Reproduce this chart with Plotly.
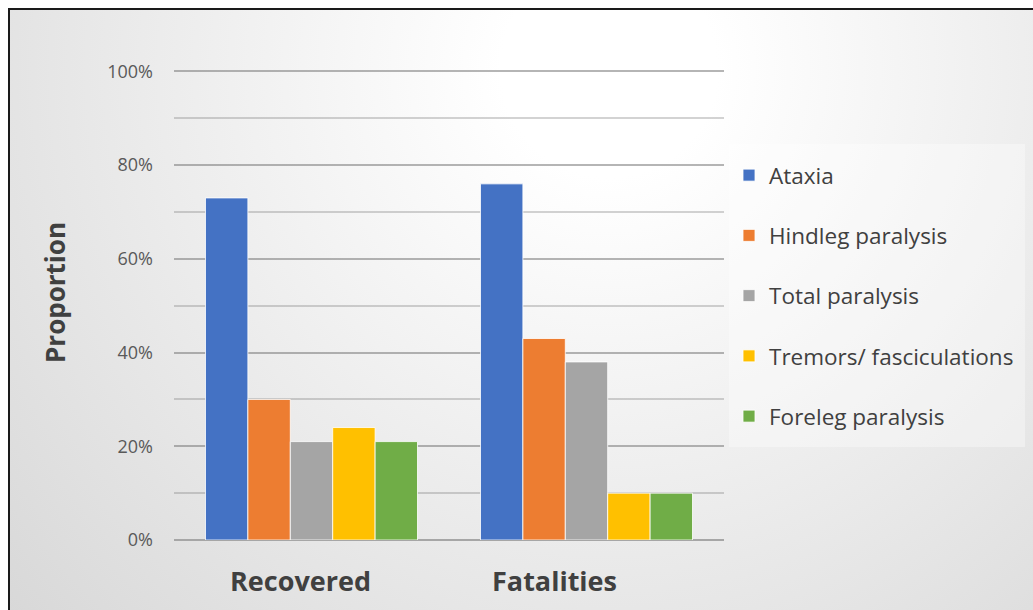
import base64
import plotly.graph_objects as go

# Chart data
groups = ["Recovered", "Fatalities"]
signs = ["Ataxia", "Hindleg paralysis", "Total paralysis",
         "Tremors/ fasciculations", "Foreleg paralysis"]
ataxia = [0.73, 0.76]
hindleg = [0.30, 0.43]
total = [0.21, 0.38]
tremors = [0.24, 0.10]
foreleg = [0.21, 0.10]
series_values = [ataxia, hindleg, total, tremors, foreleg]
colors = ["#4472C4", "#ED7D31", "#A5A5A5", "#FFC000", "#70AD47"]
y_tick_vals = [0, 0.2, 0.4, 0.6, 0.8, 1.0]
y_tick_text = ["0%", "20%", "40%", "60%", "80%", "100%"]

W, H = 1033, 610
L, R, T, B = 174, 309, 70, 70
pw, ph = W - L - R, H - T - B
FONT = "Open Sans, DejaVu Sans, sans-serif"


def px_x(px):
    return (px - L) / pw


def px_y(py):
    return (H - B - py) / ph


# Soft radial backdrop for the chart frame
svg = f"""<svg xmlns='http://www.w3.org/2000/svg' width='1031' height='606' viewBox='0 0 1031 606' preserveAspectRatio='none'>
<defs><radialGradient id='g' gradientUnits='userSpaceOnUse' cx='600' cy='60' r='900'>
<stop offset='0' stop-color='#ffffff'/><stop offset='0.12' stop-color='#ffffff'/>
<stop offset='1' stop-color='#d3d3d3'/></radialGradient></defs>
<rect width='1031' height='606' fill='url(#g)'/></svg>"""
bg_src = "data:image/svg+xml;base64," + base64.b64encode(svg.encode()).decode()

fig = go.Figure()
for name, vals, col in zip(signs, series_values, colors):
    fig.add_trace(go.Bar(
        x=groups, y=vals, name=name, legendgroup=name,
        marker=dict(color=col, line=dict(color="rgba(255,255,255,0.8)", width=1)),
    ))

# Category labels sit slightly left of the bar-group centres
label_shift = [-11, -32]
annotations = [
    dict(x=g, y=0, xref="x", yref="y", text=f"<b>{g}</b>", showarrow=False,
         xshift=s, yshift=-40, yanchor="middle",
         font=dict(size=27, color="#404040", family=FONT))
    for g, s in zip(groups, label_shift)
]
annotations.append(dict(
    x=px_x(55), y=px_y(293), xref="paper", yref="paper", text="<b>Proportion</b>",
    textangle=-90, showarrow=False, xanchor="center", yanchor="middle",
    font=dict(size=26, color="#404040", family=FONT),
))

fig.update_layout(
    width=W, height=H,
    margin=dict(l=L, r=R, t=T, b=B, autoexpand=False),
    paper_bgcolor="white",
    plot_bgcolor="rgba(0,0,0,0)",
    barmode="group",
    bargap=0.229,
    bargroupgap=0,
    font=dict(family=FONT, color="#404040"),
    images=[dict(
        source=bg_src, xref="paper", yref="paper",
        x=px_x(9), y=px_y(9), sizex=px_x(1040) - px_x(9), sizey=px_y(9) - px_y(615),
        xanchor="left", yanchor="top", sizing="stretch", layer="below",
    )],
    shapes=[
        # legend panel
        dict(type="rect", xref="paper", yref="paper",
             x0=px_x(729), x1=px_x(1025), y0=px_y(447), y1=px_y(144),
             line=dict(width=0), fillcolor="rgba(255,255,255,0.35)", layer="below"),
        # outer frame
        dict(type="rect", xref="paper", yref="paper",
             x0=px_x(9), x1=px_x(1045), y0=px_y(620), y1=px_y(9),
             line=dict(color="#1a1a1a", width=2), fillcolor="rgba(0,0,0,0)",
             layer="above"),
    ],
    annotations=annotations,
    legend=dict(
        x=px_x(729), y=px_y(154), xanchor="left", yanchor="top",
        bgcolor="rgba(0,0,0,0)",
        font=dict(size=22.5, color="#404040"),
        tracegroupgap=28,
        traceorder="grouped",
    ),
    showlegend=True,
)

fig.update_xaxes(
    showgrid=False, showline=False, zeroline=False,
    showticklabels=False, ticks="",
)

fig.update_yaxes(
    range=[0, 1.003], tickvals=y_tick_vals, ticktext=y_tick_text,
    tickfont=dict(size=18, color="#595959"),
    ticks="", ticklabelstandoff=20,
    showgrid=True, gridcolor="rgba(120,120,120,0.33)", gridwidth=1.5,
    minor=dict(dtick=0.1, showgrid=True, gridcolor="rgba(120,120,120,0.33)", gridwidth=1.5),
    zeroline=True, zerolinecolor="#A6A6A6", zerolinewidth=1.5,
    showline=False,
)

fig.write_html("out.html")
